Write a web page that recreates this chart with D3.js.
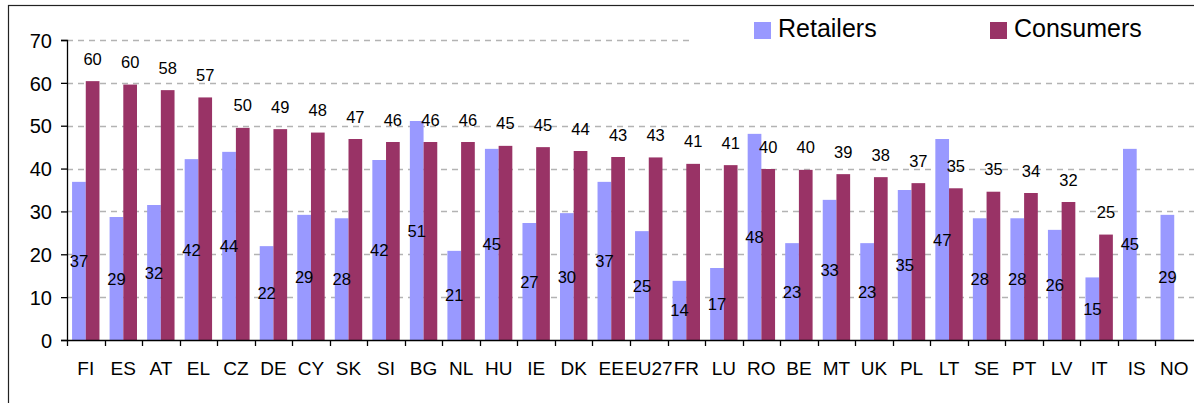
<!DOCTYPE html>
<html>
<head>
<meta charset="utf-8">
<script src="https://cdn.jsdelivr.net/npm/d3@7"></script>
<style>
  body { margin: 0; background: #fff; }
  svg text { font-family: "Liberation Sans", Arial, sans-serif; fill: #000; }
</style>
</head>
<body>
<div class="render"></div>
<script>
var countries = ['FI', 'ES', 'AT', 'EL', 'CZ', 'DE', 'CY', 'SK', 'SI', 'BG', 'NL', 'HU', 'IE', 'DK', 'EE',
   'EU27', 'FR', 'LU', 'RO', 'BE', 'MT', 'UK', 'PL', 'LT', 'SE', 'PT', 'LV', 'IT', 'IS', 'NO'];
var retailers = [36.9, 28.7, 31.5, 42.2, 43.9, 21.9, 29.2, 28.4, 42.0, 51.1, 20.8, 44.6, 27.3, 29.6, 36.9,
   25.4, 13.8, 16.8, 48.1, 22.6, 32.7, 22.6, 35.0, 46.9, 28.4, 28.4, 25.7, 14.6, 44.6, 29.2];
var consumers = [60.4, 59.6, 58.3, 56.6, 49.5, 49.2, 48.4, 46.9, 46.2, 46.2, 46.2, 45.3, 45.0, 44.1, 42.7,
   42.6, 41.1, 40.8, 39.9, 39.7, 38.7, 38.0, 36.6, 35.4, 34.6, 34.3, 32.2, 24.6, null, null];
var series = ['Retailers', 'Consumers'];
var colors = ['#9999ff', '#993366'];
var yTicks = [0, 10, 20, 30, 40, 50, 60, 70];

function draw() {
   var w = 1194, h = 403;
   var left = 67, right = 1193, top = 40, bottom = 340;

   var svg = d3.select('.render').append('svg').attr('width', w).attr('height', h);

   // outer frame (cut by the window at right and bottom)
   svg.append('rect').attr('x', 8.5).attr('y', 5.5).attr('width', 1300).attr('height', 500)
      .attr('fill', 'none').attr('stroke', '#222').attr('stroke-width', 1.2);

   var x = d3.scaleBand().domain(countries).range([left, right]).padding(0);
   var xSub = d3.scaleBand().domain(series).range([0, x.bandwidth()]).paddingInner(0).paddingOuter(0.37);
   var y = d3.scaleLinear().domain([0, 70]).range([bottom, top]);

   // dashed grid
   svg.append('g').selectAll('line').data(yTicks.slice(1)).enter().append('line')
      .attr('x1', left).attr('x2', w)
      .attr('y1', function (d) { return Math.round(y(d)) + 0.5; })
      .attr('y2', function (d) { return Math.round(y(d)) + 0.5; })
      .attr('stroke', '#b3b3b3').attr('stroke-width', 1.3).attr('stroke-dasharray', '6,5');

   var rows = countries.map(function (c, i) {
      return { c: c, vals: [retailers[i], consumers[i]] };
   });

   var groups = svg.append('g').selectAll('g').data(rows).enter().append('g')
      .attr('transform', function (d) { return 'translate(' + x(d.c) + ',0)'; });

   groups.selectAll('rect').data(function (d) {
      return d.vals.map(function (v, k) { return { s: series[k], k: k, v: v }; })
         .filter(function (e) { return e.v != null; });
   }).enter().append('rect')
      .attr('x', function (d) { return xSub(d.s); })
      .attr('width', xSub.bandwidth())
      .attr('y', function (d) { return y(d.v); })
      .attr('height', function (d) { return bottom - y(d.v); })
      .attr('fill', function (d) { return colors[d.k]; });

   var fmt = d3.format('.0f');
   // retailer labels: centred in the bar
   groups.filter(function (d) { return d.vals[0] != null; }).append('text')
      .attr('x', xSub('Retailers') + xSub.bandwidth() / 2)
      .attr('y', function (d) { return y(d.vals[0] / 2) + 6; })
      .attr('text-anchor', 'middle').style('font-size', '16.5px')
      .text(function (d) { return fmt(d.vals[0]); });
   // consumer labels: above the bar
   groups.filter(function (d) { return d.vals[1] != null; }).append('text')
      .attr('x', xSub('Consumers') + xSub.bandwidth() / 2)
      .attr('y', function (d) { return y(d.vals[1]) - 16.5; })
      .attr('text-anchor', 'middle').style('font-size', '16.5px')
      .text(function (d) { return fmt(d.vals[1]); });

   // y axis
   var yAxis = d3.axisLeft(y).tickValues(yTicks).tickSize(6).tickPadding(9).tickFormat(d3.format(''));
   var ya = svg.append('g').attr('transform', 'translate(' + left + ',0)').call(yAxis);
   ya.select('.domain').attr('stroke', '#000').attr('stroke-width', 1.3);
   ya.selectAll('.tick line').attr('stroke', '#000').attr('stroke-width', 1.3);
   ya.selectAll('.tick text').style('font-size', '20px').attr('dy', '0.36em');

   // x axis
   svg.append('line').attr('x1', left).attr('x2', w).attr('y1', bottom + 0.5).attr('y2', bottom + 0.5)
      .attr('stroke', '#000').attr('stroke-width', 1.3);
   svg.append('g').selectAll('line').data(countries).enter().append('line')
      .attr('x1', function (d) { return Math.round(x(d)) + 0.5; })
      .attr('x2', function (d) { return Math.round(x(d)) + 0.5; })
      .attr('y1', bottom).attr('y2', bottom + 6)
      .attr('stroke', '#000').attr('stroke-width', 1.3);
   svg.append('g').selectAll('text').data(countries).enter().append('text')
      .attr('x', function (d) { return x(d) + x.bandwidth() / 2; })
      .attr('y', 375).attr('text-anchor', 'middle').style('font-size', '19px')
      .text(function (d) { return d; });

   // legend
   var lg = svg.append('g');
   lg.append('rect').attr('x', 690).attr('y', 10).attr('width', 504).attr('height', 38).attr('fill', '#fff');
   var legX = [754, 990];
   series.forEach(function (s, i) {
      lg.append('rect').attr('x', legX[i]).attr('y', 22).attr('width', 17).attr('height', 17).attr('fill', colors[i]);
      lg.append('text').attr('x', legX[i] + 24).attr('y', 37).style('font-size', '25px').text(s);
   });
}
draw();
</script>
</body>
</html>
